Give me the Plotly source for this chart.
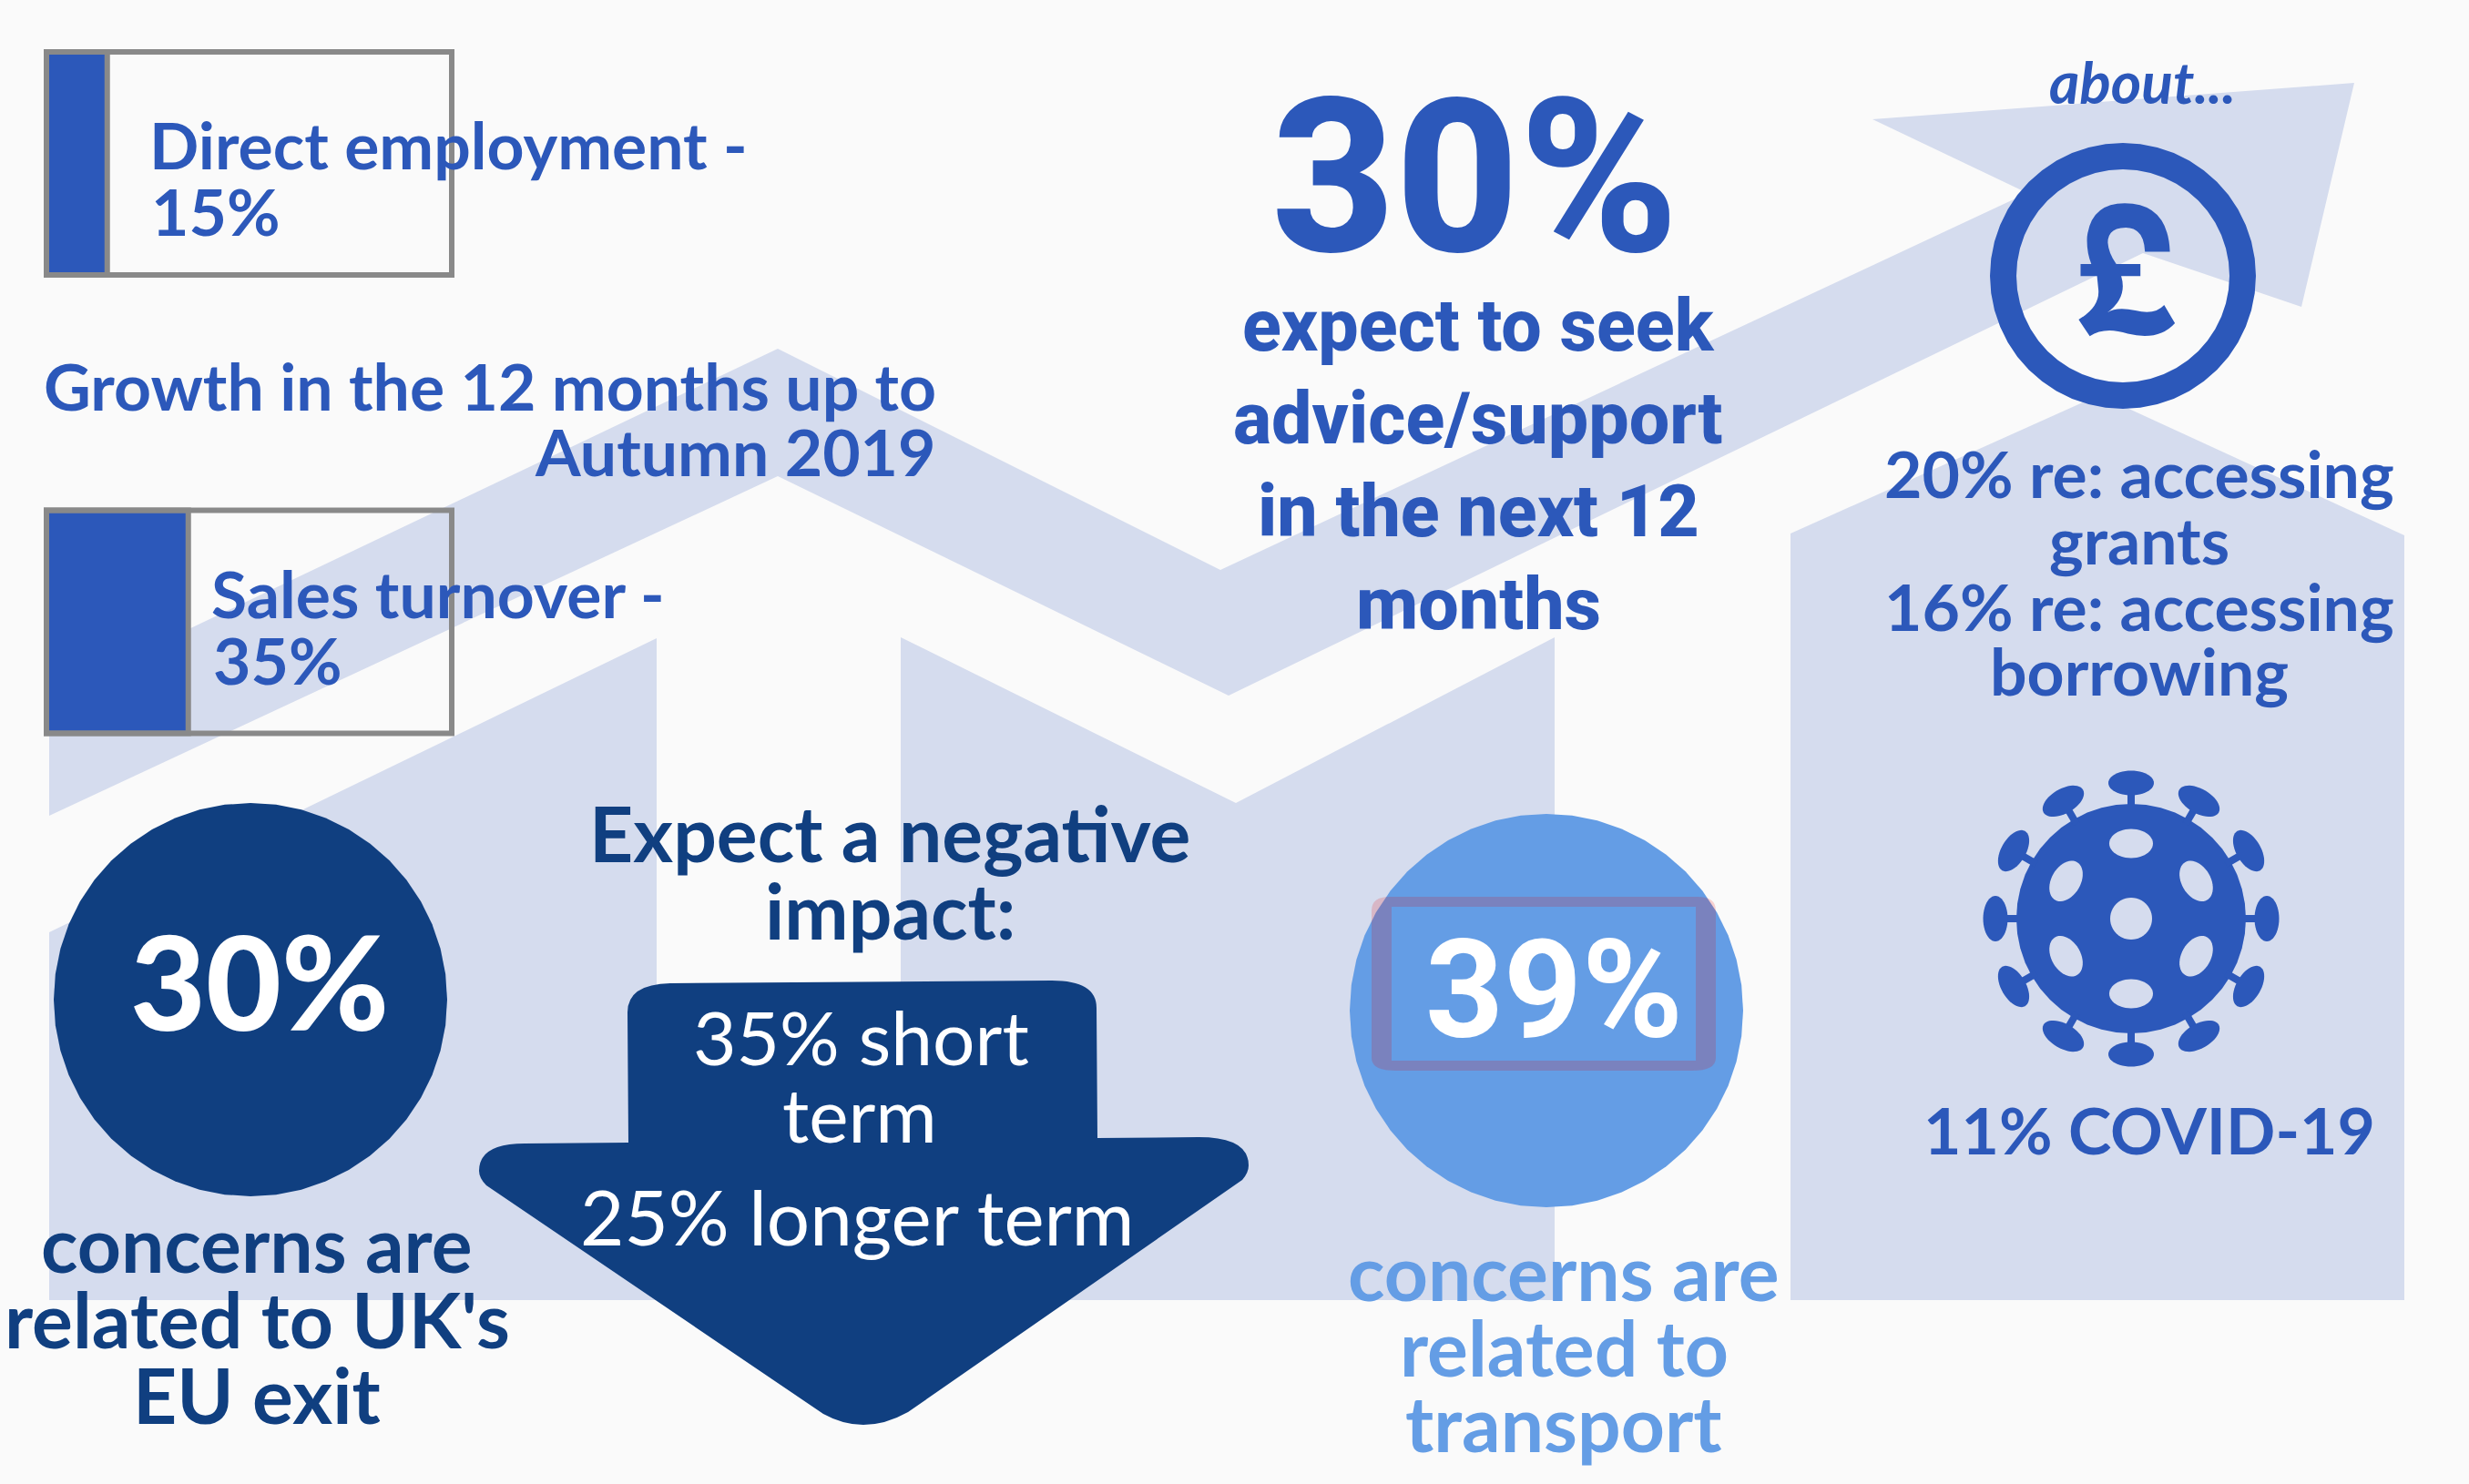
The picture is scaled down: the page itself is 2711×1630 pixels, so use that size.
import numpy as np
import plotly.graph_objects as go

W, H = 2711, 1630
BG = "#FAFAFA"; PALE = "#D5DCEE"; BLUE = "#2C58BA"; NAVY = "#103F80"; SKY = "#649DE5"

# ---- data ----
growth_labels = ["Direct employment", "Sales turnover"]
growth_values = [15, 35]
growth_full = [100, 100]

# ---- decoration outlines (px) ----
band = [(54,764),(854,383),(1340,626),(2226,212),(2056,131),(2585,91),(2527,337),(2353,278),(1349,764),(854,523),(54,896)]
house_a = [(54,1024),(721,701),(721,1428),(54,1428)]
house_b = [(989,700),(1357,882),(1707,700),(1707,1428),(989,1428)]
house_c = [(1966,586),(2305,434),(2640,588),(2640,1428),(1966,1428)]

def poly(pts):
    return "M " + " L ".join(f"{x} {y}" for x, y in pts) + " Z"

def ell(cx, cy, rx, ry, rot=0.0):
    t = np.linspace(0, 2*np.pi, 49)[:-1]
    x = rx*np.cos(t); y = ry*np.sin(t)
    c, s = np.cos(rot), np.sin(rot)
    return poly([(round(cx+c*a-s*b, 2), round(cy+s*a+c*b, 2)) for a, b in zip(x, y)])

shapes = []
def add(path, fill, **k):
    shapes.append(dict(type="path", path=path, fillcolor=fill, line=dict(width=0), xref="x", yref="y", layer="below", **k))

for p in (band, house_a, house_b, house_c):
    add(poly(p), PALE)

# circles
add(ell(275, 1098, 216, 216), NAVY)
add(ell(1698, 1110, 216, 216), SKY)
# red translucent frame on the sky circle
frame = ("M 1526 985 L 1864 985 Q 1884 985 1884 1000 L 1884 1162 Q 1884 1176 1858 1176 L 1532 1176 "
         "Q 1506 1176 1506 1162 L 1506 1000 Q 1506 985 1526 985 Z "
         "M 1528 996 L 1528 1165 L 1862 1165 L 1862 996 Z")
add(frame, "rgba(229,0,0,0.17)", fillrule="evenodd")

# down arrow
add("M 689 1112 Q 689 1081 736 1080 L 1155 1077 Q 1204 1077 1204 1107 L 1205 1250 L 1316 1249 "
    "Q 1371 1249 1371 1280 Q 1371 1288 1364 1296 L 997 1551 Q 949 1578 904 1553 L 534 1302 "
    "Q 526 1294 526 1286 Q 526 1256 576 1256 L 690 1255 Z", NAVY)

# pound ring
add(ell(2331, 303, 146, 146) + " " + ell(2331, 303, 117, 117), BLUE, fillrule="evenodd")

# pound icon, traced in crop coordinates
def zx(v): return round(2050 + v*0.421, 1)
def zy(v): return round(50 + v*0.3333, 1)
def P(x, y): return f"{zx(x)} {zy(y)}"
pound = ("M " + P(552,903) + " Q " + P(610,860) + " " + P(603,800) + " L " + P(600,760) + " L " + P(557,760) + " L " + P(557,720) +
         " L " + P(585,720) + " Q " + P(572,680) + " " + P(574,630) + " Q " + P(585,520) + " " + P(672,520) +
         " Q " + P(785,520) + " " + P(790,680) + " L " + P(725,680) + " Q " + P(722,600) + " " + P(675,600) +
         " Q " + P(628,600) + " " + P(628,650) + " Q " + P(630,685) + " " + P(650,720) + " L " + P(713,720) + " L " + P(713,760) +
         " L " + P(663,760) + " Q " + P(680,830) + " " + P(627,880) + " Q " + P(650,860) + " " + P(700,873) +
         " Q " + P(750,890) + " " + P(775,855) + " L " + P(803,915) + " Q " + P(760,975) + " " + P(680,950) +
         " Q " + P(620,925) + " " + P(581,958) + " Z")
add(pound, BLUE)

# virus icon
vx, vy = 2340, 1009
add(ell(vx, vy, 126, 126), BLUE)
for k in range(12):
    a = k*np.pi/6
    ux, uy = np.sin(a), -np.cos(a)
    px, py = -uy, ux
    r0, r1 = 120, 145
    add(poly([(round(vx+ux*r+px*o, 2), round(vy+uy*r+py*o, 2)) for r, o in ((r0,-4),(r1,-4),(r1,4),(r0,4))]), BLUE)
    add(ell(vx+ux*149, vy+uy*149, 25, 13.5, a), BLUE)
add(ell(vx, vy, 23, 23), PALE)
for k in range(6):
    a = k*np.pi/3
    add(ell(vx+np.sin(a)*82.5, vy-np.cos(a)*82.5, 24, 16, a), PALE)

# ---- text ----
annos = []
ASC = {"Lato": 0.41, "Roboto": 0.36}
def t(text, x, base, size, color, anchor="center", font="Lato", weight=400, italic=False):
    annos.append(dict(text=text, x=x, y=base-ASC[font]*size, xref="x", yref="y", xanchor=anchor, yanchor="middle",
                      showarrow=False, borderpad=0,
                      font=dict(family=font, size=size, color=color, weight=weight, style="italic" if italic else "normal")))

t("Direct employment -", 163, 187, 71.5, BLUE, "left", weight=700)
t("15%", 165, 260, 71.5, BLUE, "left", weight=700)
t("Growth in the 12 months up to", 1029, 452, 71.5, BLUE, "right", weight=700)
t("Autumn 2019", 1029, 524, 71.5, BLUE, "right", weight=700)
t("Sales turnover -", 231, 680, 71.5, BLUE, "left", weight=700)
t("35%", 233, 753, 71.5, BLUE, "left", weight=700)

t("30%", 1619, 280, 236, BLUE, font="Roboto", weight=800)
for s, b in zip(["expect to seek", "advice/support", "in the next 12", "months"], [386, 488, 590, 692]):
    t(s, 1623, b, 79, BLUE, font="Roboto", weight=800)

t("about...", 2352, 116, 64, BLUE, weight=700, italic=True)
for s, b in zip(["20% re: accessing", "grants", "16% re: accessing", "borrowing"], [548, 621, 694, 765]):
    t(s, 2349, b, 71.5, BLUE, weight=700)
t("11% COVID-19", 2360, 1269, 71.5, BLUE, weight=700)

t("30%", 285, 1135, 143, "white", weight=900)
for s, b in zip(["concerns are", "related to UK's", "EU exit"], [1400, 1483, 1566]):
    t(s, 282, b, 84, NAVY, weight=700)

t("Expect a negative", 977, 949, 84, NAVY, weight=700)
t("impact:", 977, 1034, 84, NAVY, weight=700)
t("35% short", 945, 1172, 82, "white")
t("term", 944, 1257, 82, "white")
t("25% longer term", 941, 1370, 83.5, "white")

t("39%", 1706, 1142, 150, "white", font="Roboto", weight=700)
for s, b in zip(["concerns are", "related to", "transport"], [1431, 1514, 1597]):
    t(s, 1717, b, 84, SKY, weight=700)

fig = go.Figure()
# invisible trace to keep the pixel axes alive
fig.add_trace(go.Scatter(x=[0, W], y=[0, H], mode="markers", marker=dict(opacity=0), hoverinfo="skip", showlegend=False))
# the two growth bars, on their own percentage axis
FRAME = "#898989"
fig.add_trace(go.Bar(x=growth_values, y=growth_labels, orientation="h", xaxis="x2", yaxis="y2", width=0.4866, cliponaxis=False,
                     marker=dict(color=BLUE, line=dict(color=FRAME, width=6)), showlegend=False, hoverinfo="skip"))
fig.add_trace(go.Bar(x=growth_full, y=growth_labels, orientation="h", xaxis="x2", yaxis="y2", width=0.4866, cliponaxis=False,
                     marker=dict(color="rgba(0,0,0,0)", line=dict(color=FRAME, width=6)), showlegend=False, hoverinfo="skip"))

fig.update_layout(
    width=W, height=H, margin=dict(l=0, r=0, t=0, b=0, pad=0, autoexpand=False), autosize=False,
    paper_bgcolor=BG, plot_bgcolor="rgba(0,0,0,0)", barmode="overlay", showlegend=False,
    shapes=shapes, annotations=annos,
    xaxis=dict(range=[0, W], visible=False, domain=[0, 1], fixedrange=True),
    yaxis=dict(range=[H, 0], visible=False, domain=[0, 1], fixedrange=True),
    xaxis2=dict(range=[-2, 102], visible=False, domain=[42.1/W, 504.9/W], anchor="y2", fixedrange=True),
    yaxis2=dict(type="category", categoryorder="array", categoryarray=growth_labels, range=[1.25, -0.25], visible=False,
                domain=[1-808.9/H, 1-53.6/H], anchor="x2", fixedrange=True),
)
fig.write_html("out.html", config=dict(displayModeBar=False),
               post_script="document.documentElement.style.margin='0';document.body.style.margin='0';")
